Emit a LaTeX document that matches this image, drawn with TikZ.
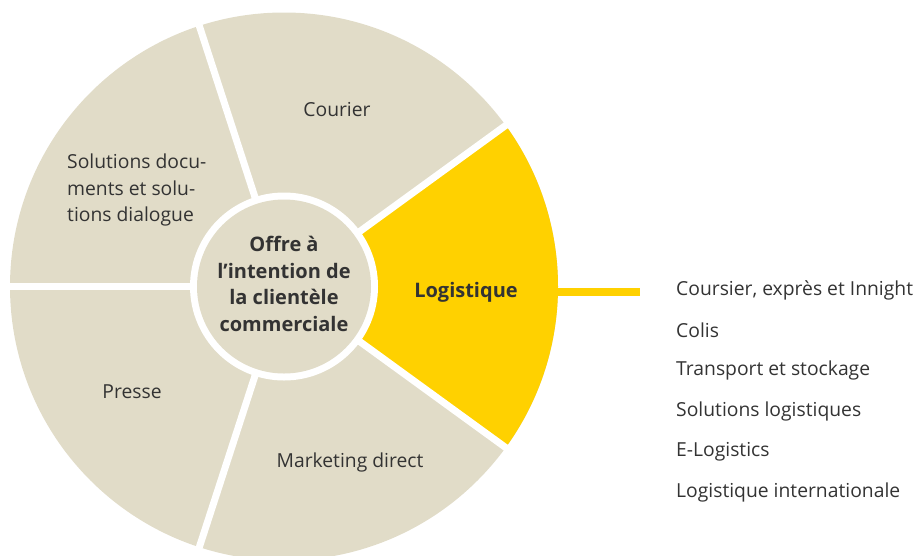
\documentclass[tikz,border=0pt]{standalone}
\usepackage{fontspec}
\setmainfont{Open Sans}
\definecolor{beige}{HTML}{E1DCC8}
\definecolor{postyellow}{HTML}{FFD100}
\definecolor{txt}{HTML}{333333}
\begin{document}
\begin{tikzpicture}[x=1pt,y=1pt,
  lbl/.style={text=txt,font=\fontsize{19.3}{26.5}\selectfont,inner sep=0pt},
  blbl/.style={text=txt,font=\fontsize{20}{26.7}\selectfont\bfseries,inner sep=0pt},
  gap/.style={white,line width=7pt}]
\useasboundingbox (0,0) rectangle (916,-555);
\coordinate (c) at (284,-286.5);
\fill[beige] (c) circle (274);
\fill[postyellow] (c) -- ++(-36:274) arc (-36:36:274) -- cycle;
\foreach \a in {36,108,180,252,324}
  \draw[gap] (c) -- ++(\a:285);
\fill[white] (c) circle (94);
\fill[beige] (c) circle (87);
\node[blbl,align=center] (centre) at (284,-284) {Offre à\\l’intention de\\la clientèle\\commerciale};
\node[lbl] (courier) at (337,-110) {Courier};
\node[lbl,align=left,anchor=west] (solutions) at (67,-190) {Solutions docu-\\ments et solu-\\tions dialogue};
\node[lbl] (presse) at (132,-392) {Presse};
\node[lbl] (marketing) at (350,-462) {Marketing direct};
\node[blbl] (logistique) at (466,-292) {Logistique};
\coordinate (yedge) at (555,-292);
\coordinate (lineend) at (640,-292);
\draw[postyellow,line width=7.5pt] (yedge) -- (lineend);
\foreach \t [count=\i from 0] in {{Coursier, exprès et Innight},Colis,Transport et stockage,Solutions logistiques,E-Logistics,Logistique internationale}
  \node[lbl,anchor=west] (item\i) at (676,-290-40.4*\i) {\t};
\end{tikzpicture}
\end{document}
